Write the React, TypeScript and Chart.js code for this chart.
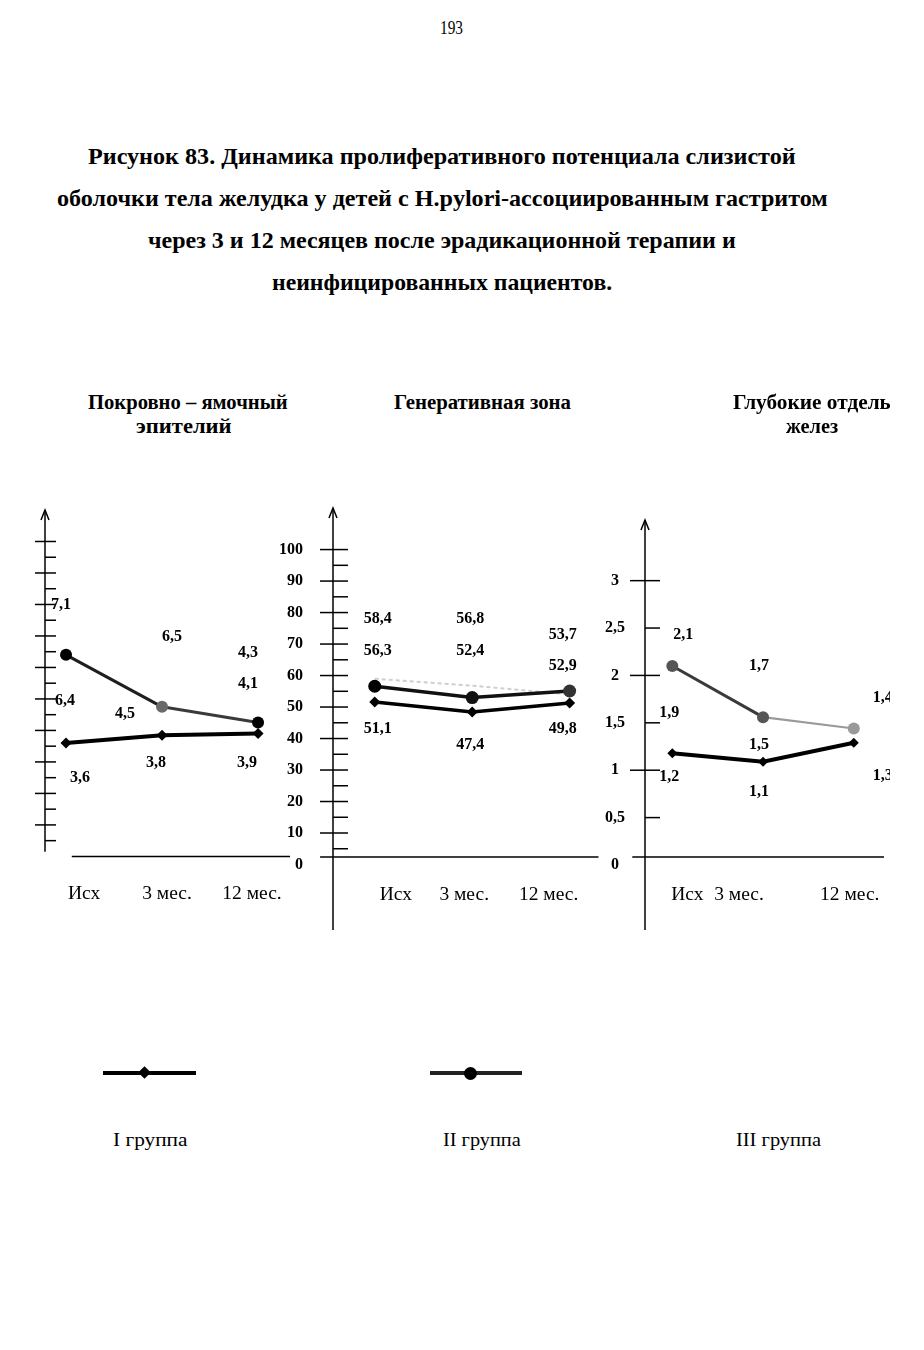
import React, { useEffect, useLayoutEffect, useRef, useState } from "react";
import { Chart, registerables } from "chart.js";

Chart.register(...registerables);

const SERIF = '"Liberation Serif", "Times New Roman", serif';

// ---------------- DATA ----------------
const categories = ["Исх", "3 мес.", "12 мес."];
const groupNames = ["I группа", "II группа", "III группа"];

const titleLines = [
  "Рисунок 83. Динамика пролиферативного потенциала слизистой",
  "оболочки тела желудка у детей с H.pylori-ассоциированным гастритом",
  "через 3 и 12 месяцев после эрадикационной терапии и",
  "неинфицированных пациентов.",
];
const panelTitles = [
  ["Покровно – ямочный", "эпителий"],
  ["Генеративная зона"],
  ["Глубокие отделы", "желез"],
];

// Покровно – ямочный эпителий
const epiGroupI = [3.6, 3.85, 3.9];
const epiGroupII = [6.4, 4.75, 4.25];
const epiValueLabels = [
  ["7,1", "6,4", "3,6"],
  ["6,5", "4,5", "3,8"],
  ["4,3", "4,1", "3,9"],
];
const epiMajorTicks = [1, 2, 3, 4, 5, 6, 7, 8, 9, 10];
const epiMinorTicks = [0.5, 1.5, 2.5, 3.5, 4.5, 5.5, 6.5, 7.5, 8.5, 9.5];

// Генеративная зона
const genGroupI = [51.6, 48.4, 51.3];
const genGroupII = [56.6, 53.0, 55.1];
const genGroupIII = [59.0, 56.8, 54.0];
const genValueLabels = [
  ["58,4", "56,3", "51,1"],
  ["56,8", "52,4", "47,4"],
  ["53,7", "52,9", "49,8"],
];
const genTickValues = [0, 10, 20, 30, 40, 50, 60, 70, 80, 90, 100];
const genTickLabels = ["0", "10", "20", "30", "40", "50", "60", "70", "80", "90", "100"];
const genMajorTicks = [10, 20, 30, 40, 50, 60, 70, 80, 90, 100];
const genMinorTicks = [5, 15, 25, 35, 45, 55, 65, 75, 85, 95];

// Глубокие отделы желез
const deepGroupI = [1.18, 1.09, 1.29];
const deepGroupIII = [2.1, 1.56, 1.44];
const deepValueLabels = [
  ["2,1", "1,9", "1,2"],
  ["1,7", "1,5", "1,1"],
  ["1,4", "", "1,3"],
];
const deepTickValues = [0, 0.5, 1, 1.5, 2, 2.5, 3];
const deepTickLabels = ["0", "0,5", "1", "1,5", "2", "2,5", "3"];
const deepMajorTicks = [1, 2, 3];
const deepMinorTicks = [0.5, 1.5, 2.5];

// ---------------- LAYOUT ----------------
type Layout = {
  left: number; top: number; width: number; height: number;
  axisWidth: number; padTop: number; padBottom: number; padRight: number;
  xMin: number; xMax: number; yMin: number; yMax: number;
  axisBottom: number; majorLeft: number; tickRight: number;
  baseFrom: number; baseTo: number; baseDy: number;
  catDx: number[]; catDy: number;
  valOffsets: number[][][];
  labelPad: number; crossAlign: "near" | "center" | "far"; showLabels: boolean;
};

const epiLayout: Layout = {
  left: 0, top: 490, width: 305, height: 450,
  axisWidth: 45, padTop: 20, padBottom: 83.6, padRight: 10,
  xMin: -0.219, xMax: 2.385, yMin: 0, yMax: 11,
  axisBottom: 0.15, majorLeft: 10, tickRight: 11,
  baseFrom: 0.06, baseTo: 2.333, baseDy: 0,
  catDx: [18, 5, -6], catDy: 43,
  valOffsets: [
    [[-5, -252], [-1, -156], [14, -79]],
    [[10, -220], [-37, -143], [-6, -94]],
    [[-10, -204], [-10, -173], [-11, -94]],
  ],
  labelPad: 10, crossAlign: "near", showLabels: false,
};

const genLayout: Layout = {
  left: 260, top: 490, width: 345, height: 455,
  axisWidth: 73, padTop: 18, padBottom: 15, padRight: 5,
  xMin: -0.4286, xMax: 2.296, yMin: -20.8, yMax: 113.2,
  axisBottom: -20.8, majorLeft: 13, tickRight: 15,
  baseFrom: -0.561, baseTo: 2.296, baseDy: -7.5,
  catDx: [21, -8, -21], catDy: 43,
  valOffsets: [
    [[3, -238], [3, -206], [3, -128]],
    [[-2, -238], [-2, -206], [-2, -112]],
    [[-7, -222], [-7, -191], [-7, -128]],
  ],
  labelPad: 30, crossAlign: "near", showLabels: true,
};

const deepLayout: Layout = {
  left: 590, top: 490, width: 300, height: 455,
  axisWidth: 55, padTop: 30, padBottom: 15, padRight: 0,
  xMin: -0.301, xMax: 2.333, yMin: -0.686, yMax: 3.64,
  axisBottom: -0.686, majorLeft: 15, tickRight: 15,
  baseFrom: -0.441, baseTo: 2.333, baseDy: -8,
  catDx: [15, -24, -4], catDy: 43,
  valOffsets: [
    [[11, -222], [-3, -144], [-3, -80]],
    [[-4, -191], [-4, -112], [-4, -65]],
    [[29, -159], [29, -112], [29, -81]],
  ],
  labelPad: 20, crossAlign: "center", showLabels: true,
};

const toPoints = (vals: number[]) => vals.map((y, i) => ({ x: i, y }));

function makeDecor(L: Layout, valueLabels: string[][], major: number[], minor: number[]) {
  return {
    id: "decor",
    afterDraw(chart: any) {
      const { ctx, chartArea, scales } = chart;
      const xs = scales.x;
      const ys = scales.y;
      const ax = chartArea.left;
      const line = (x1: number, y1: number, x2: number, y2: number) => {
        ctx.beginPath();
        ctx.moveTo(x1, y1);
        ctx.lineTo(x2, y2);
        ctx.stroke();
      };
      ctx.save();
      ctx.strokeStyle = "#000";
      ctx.lineWidth = 1.5;
      line(ax, chartArea.top, ax, ys.getPixelForValue(L.axisBottom));
      ctx.beginPath();
      ctx.moveTo(ax - 4, chartArea.top + 10);
      ctx.lineTo(ax, chartArea.top);
      ctx.lineTo(ax + 4, chartArea.top + 10);
      ctx.stroke();
      major.forEach((v) => {
        const y = ys.getPixelForValue(v);
        line(ax - L.majorLeft, y, ax + L.tickRight, y);
      });
      minor.forEach((v) => {
        const y = ys.getPixelForValue(v);
        line(ax, y, ax + L.tickRight, y);
      });
      const by = ys.getPixelForValue(0) + L.baseDy;
      line(xs.getPixelForValue(L.baseFrom), by, xs.getPixelForValue(L.baseTo), by);

      ctx.fillStyle = "#000";
      ctx.textAlign = "center";
      ctx.textBaseline = "alphabetic";
      ctx.font = `19.5px ${SERIF}`;
      categories.forEach((c, i) => {
        ctx.fillText(c, xs.getPixelForValue(i) + L.catDx[i], by + L.catDy);
      });
      ctx.font = `bold 16px ${SERIF}`;
      ctx.textBaseline = "middle";
      valueLabels.forEach((col, i) =>
        col.forEach((t, j) => {
          if (!t) return;
          const [dx, dy] = L.valOffsets[i][j];
          ctx.fillText(t, xs.getPixelForValue(i) + dx, by + dy);
        })
      );
      ctx.restore();
    },
  };
}

function Panel(props: {
  layout: Layout;
  datasets: any[];
  tickValues: number[];
  tickLabels: string[];
  valueLabels: string[][];
  major: number[];
  minor: number[];
}) {
  const ref = useRef<HTMLCanvasElement>(null);
  const { layout: L } = props;
  useEffect(() => {
    const canvas = ref.current;
    if (!canvas) return;
    const chart = new Chart(canvas, {
      type: "line",
      data: { datasets: props.datasets },
      options: {
        responsive: false,
        animation: false,
        events: [],
        layout: { padding: { left: 0, top: L.padTop, right: L.padRight, bottom: L.padBottom } },
        plugins: { legend: { display: false }, tooltip: { enabled: false } },
        scales: {
          x: { type: "linear", display: false, min: L.xMin, max: L.xMax },
          y: {
            type: "linear",
            position: "left",
            min: L.yMin,
            max: L.yMax,
            grid: { display: false, drawTicks: false },
            border: { display: false },
            afterFit: (s: any) => {
              s.width = L.axisWidth;
              s.paddingTop = 0;
              s.paddingBottom = 0;
            },
            afterBuildTicks: (s: any) => {
              s.ticks = props.tickValues.map((v) => ({ value: v }));
            },
            ticks: {
              display: L.showLabels,
              padding: L.labelPad,
              crossAlign: L.crossAlign,
              color: "#000",
              font: { family: SERIF, size: 16, weight: "bold" },
              callback: (_v: any, i: number) => props.tickLabels[i],
            },
          },
        },
      } as any,
      plugins: [makeDecor(L, props.valueLabels, props.major, props.minor)],
    });
    return () => chart.destroy();
  }, []);
  return (
    <canvas
      ref={ref}
      width={L.width}
      height={L.height}
      style={{ position: "absolute", left: L.left, top: L.top, width: L.width, height: L.height }}
    />
  );
}

function FitText(props: { text: string; x1: number; x2: number; base: number; size: number; bold?: boolean }) {
  const ref = useRef<HTMLSpanElement>(null);
  const [sx, setSx] = useState(1);
  useLayoutEffect(() => {
    const w = ref.current ? ref.current.offsetWidth : 0;
    if (w > 0) setSx((props.x2 - props.x1) / w);
  }, [props.text, props.x1, props.x2, props.size]);
  return (
    <span
      ref={ref}
      style={{
        position: "absolute",
        left: props.x1,
        top: props.base - 0.9375 * props.size,
        fontFamily: SERIF,
        fontSize: props.size,
        fontWeight: props.bold ? 700 : 400,
        lineHeight: `${1.2 * props.size}px`,
        whiteSpace: "nowrap",
        color: "#000",
        transform: `scaleX(${sx})`,
        transformOrigin: "0 0",
      }}
    >
      {props.text}
    </span>
  );
}

const diamond = { pointStyle: "rectRot", pointRadius: 5.5, pointBorderWidth: 0, pointBackgroundColor: "#000" };

export default function App() {
  const epiSets = [
    { data: toPoints(epiGroupI), borderColor: "#000", borderWidth: 4, ...diamond },
    {
      data: toPoints(epiGroupII),
      borderColor: "#1e1e1e",
      borderWidth: 3,
      pointStyle: "circle",
      pointRadius: 6,
      pointBorderWidth: 0,
      pointBackgroundColor: ["#000", "#6a6a6a", "#000"],
      segment: { borderColor: (c: any) => (c.p0DataIndex === 0 ? "#1e1e1e" : "#3a3a3a") },
    },
  ];
  const genSets = [
    { data: toPoints(genGroupI), borderColor: "#000", borderWidth: 3.5, ...diamond },
    {
      data: toPoints(genGroupII),
      borderColor: "#111",
      borderWidth: 3.5,
      pointStyle: "circle",
      pointRadius: 6.5,
      pointBorderWidth: 0,
      pointBackgroundColor: ["#000", "#111", "#333"],
    },
    {
      data: toPoints(genGroupIII),
      borderColor: "#cfcfcf",
      borderWidth: 2,
      borderDash: [4, 3],
      pointRadius: 0,
    },
  ];
  const deepSets = [
    { data: toPoints(deepGroupI), borderColor: "#000", borderWidth: 4, ...diamond, pointRadius: 5 },
    {
      data: toPoints(deepGroupIII),
      borderColor: "#3a3a3a",
      borderWidth: 3,
      pointStyle: "circle",
      pointRadius: 6,
      pointBorderWidth: 0,
      pointBackgroundColor: ["#555", "#555", "#999"],
      segment: {
        borderColor: (c: any) => (c.p0DataIndex === 0 ? "#3a3a3a" : "#9a9a9a"),
        borderWidth: (c: any) => (c.p0DataIndex === 0 ? 3 : 2.2),
      },
    },
  ];

  const titlePos = [
    [88, 796, 164],
    [57, 828, 206],
    [148, 736, 248],
    [272, 612, 290],
  ];

  return (
    <div style={{ position: "absolute", left: 0, top: 0, width: 924, height: 1350, background: "#fff", overflow: "hidden" }}>
      <FitText text="193" x1={440} x2={463} base={35} size={18} />
      {titleLines.map((t, i) => (
        <FitText key={i} text={t} x1={titlePos[i][0]} x2={titlePos[i][1]} base={titlePos[i][2]} size={24} bold />
      ))}

      <FitText text={panelTitles[0][0]} x1={88} x2={288} base={409} size={20} bold />
      <FitText text={panelTitles[0][1]} x1={136} x2={232} base={433} size={20} bold />
      <FitText text={panelTitles[1][0]} x1={394} x2={571} base={409} size={20} bold />

      <Panel layout={epiLayout} datasets={epiSets} tickValues={epiMajorTicks} tickLabels={epiMajorTicks.map(() => "")}
        valueLabels={epiValueLabels} major={epiMajorTicks} minor={epiMinorTicks} />
      <Panel layout={genLayout} datasets={genSets} tickValues={genTickValues} tickLabels={genTickLabels}
        valueLabels={genValueLabels} major={genMajorTicks} minor={genMinorTicks} />
      <Panel layout={deepLayout} datasets={deepSets} tickValues={deepTickValues} tickLabels={deepTickLabels}
        valueLabels={deepValueLabels} major={deepMajorTicks} minor={deepMinorTicks} />

      <div style={{ position: "absolute", left: 0, top: 0, width: 890, height: 500, overflow: "hidden" }}>
        <FitText text={panelTitles[2][0]} x1={733} x2={896} base={409} size={20} bold />
        <FitText text={panelTitles[2][1]} x1={786} x2={838} base={433} size={20} bold />
      </div>

      {/* legend */}
      <div style={{ position: "absolute", left: 103, top: 1071, width: 93, height: 4, background: "#000" }} />
      <div style={{ position: "absolute", left: 140, top: 1068, width: 9, height: 9, background: "#000", transform: "rotate(45deg)" }} />
      <div style={{ position: "absolute", left: 430, top: 1071, width: 92, height: 4, background: "#222" }} />
      <div style={{ position: "absolute", left: 464, top: 1067, width: 13, height: 13, background: "#000", borderRadius: "50%" }} />
      <FitText text={groupNames[0]} x1={113} x2={187} base={1147} size={19} />
      <FitText text={groupNames[1]} x1={443} x2={521} base={1147} size={19} />
      <FitText text={groupNames[2]} x1={736} x2={821} base={1147} size={19} />
    </div>
  );
}
